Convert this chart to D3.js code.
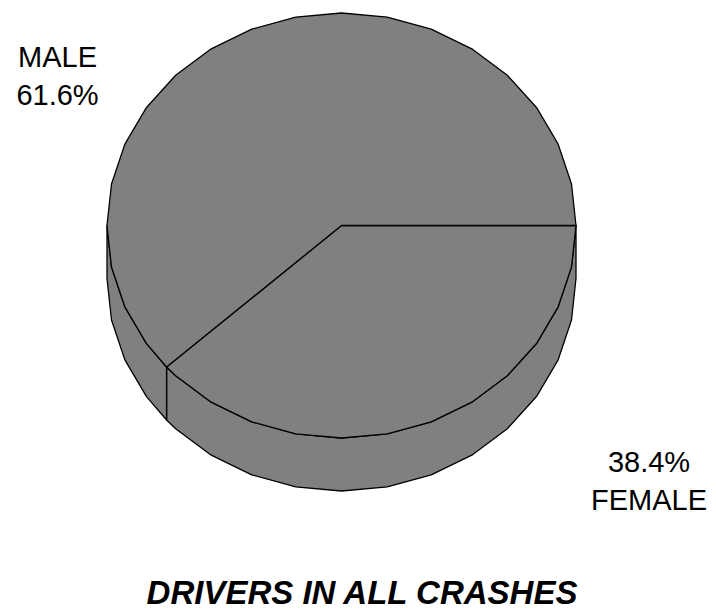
<!DOCTYPE html>
<html>
<head>
<meta charset="utf-8">
<script src="https://cdn.jsdelivr.net/npm/d3@7"></script>
<style>
  body { margin: 0; background: #fff; }
  svg { display: block; }
</style>
</head>
<body>
<script>
// data
var categories = ["FEMALE", "MALE"];
var values = [38.4, 61.6];
var labelLines = [["38.4%", "FEMALE"], ["MALE", "61.6%"]];
var title = "DRIVERS IN ALL CRASHES";

// layout
var width = 716, height = 613;
var cx = 341.5, cy = 225.5;
var rx = 234.5, ry = 212.5;
var depth = 53;
var segments = 32;
var fillColor = "#808080";

var svg = d3.select("body").append("svg")
  .attr("width", width)
  .attr("height", height);

// pie angles, first slice starts at 3 o'clock and runs clockwise
var pie = d3.pie().sort(null).startAngle(Math.PI / 2).endAngle(Math.PI / 2 + 2 * Math.PI);
var arcs = pie(values);

function pt(a, dy) {
  return [cx + rx * Math.sin(a), cy - ry * Math.cos(a) + (dy || 0)];
}

// polygon points along the rim between two angles (faceted like the original)
function rim(a0, a1, dy) {
  var step = 2 * Math.PI / segments;
  var pts = [pt(a0, dy)];
  var k = Math.ceil((a0 - Math.PI / 2) / step + 1e-6);
  for (var a = Math.PI / 2 + k * step; a < a1 - 1e-6; a += step) pts.push(pt(a, dy));
  pts.push(pt(a1, dy));
  return pts;
}

var line = d3.line().curve(d3.curveLinearClosed);

// side wall, only the front half (PI/2 .. 3PI/2) is visible
var sides = arcs.map(function(d) {
  var a0 = Math.max(d.startAngle, Math.PI / 2);
  var a1 = Math.min(d.endAngle, 3 * Math.PI / 2);
  if (a1 <= a0) return null;
  var top = rim(a0, a1, 0);
  var bottom = rim(a0, a1, depth).reverse();
  return top.concat(bottom);
}).filter(function(d) { return d; });

svg.selectAll("path.side")
  .data(sides)
  .enter().append("path")
  .attr("class", "side")
  .attr("d", line)
  .attr("fill", fillColor)
  .attr("stroke", "#000")
  .attr("stroke-width", 1.3)
  .attr("stroke-linejoin", "round");

// top face slices
svg.selectAll("path.slice")
  .data(arcs)
  .enter().append("path")
  .attr("class", "slice")
  .attr("d", function(d) {
    return line([[cx, cy]].concat(rim(d.startAngle, d.endAngle, 0)));
  })
  .attr("fill", fillColor)
  .attr("stroke", "#000")
  .attr("stroke-width", 1.3)
  .attr("stroke-linejoin", "round");

// labels
var labelPos = [[649, 472], [57.5, 67]];
var labels = svg.selectAll("text.label")
  .data(categories)
  .enter().append("text")
  .attr("class", "label")
  .attr("text-anchor", "middle")
  .attr("font-family", "Liberation Sans, Arial, sans-serif")
  .attr("font-size", 29)
  .attr("fill", "#000")
  .attr("x", function(d, i) { return labelPos[i][0]; })
  .attr("y", function(d, i) { return labelPos[i][1]; });

labels.selectAll("tspan")
  .data(function(d, i) { return labelLines[i]; })
  .enter().append("tspan")
  .attr("x", function() { return d3.select(this.parentNode).attr("x"); })
  .attr("dy", function(d, i) { return i === 0 ? 0 : 37.5; })
  .text(function(d) { return d; });

// title
svg.append("text")
  .attr("x", 362)
  .attr("y", 604)
  .attr("text-anchor", "middle")
  .attr("font-family", "Liberation Sans, Arial, sans-serif")
  .attr("font-size", 33)
  .attr("font-weight", "bold")
  .attr("font-style", "italic")
  .text(title);
</script>
</body>
</html>
